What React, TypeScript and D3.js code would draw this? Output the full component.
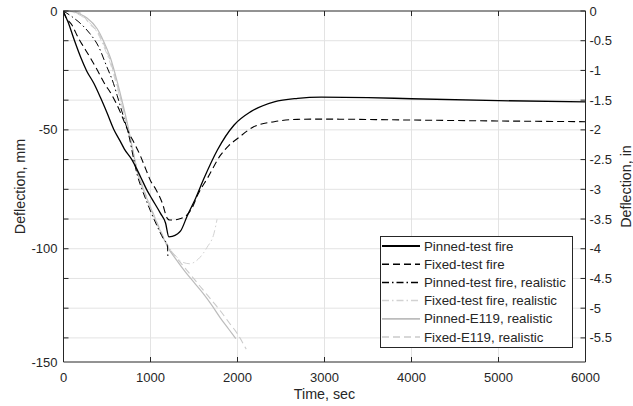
import React, { useEffect, useRef } from 'react';
import * as d3 from 'd3';

const W = 633;
const H = 406;
const FONT = '"Liberation Sans", Arial, Helvetica, sans-serif';
const INK = '#262626';

// ---- data (time in sec, deflection in mm) ----
const pinnedTestT = [0, 50, 120, 200, 265, 350, 425, 500, 577, 650, 700, 789, 885, 965, 1020, 1115, 1173, 1211, 1250, 1308, 1346, 1423, 1519, 1615, 1769, 1961, 2153, 2422, 2692, 2961, 3500, 4000, 5000, 6000];
const pinnedTestY = [-0.5, -4.5, -12, -20, -25.5, -31, -37, -43.5, -50.5, -55.5, -59, -63.7, -70.8, -77, -80.5, -86.5, -90.6, -96.5, -96.3, -95.3, -94, -87.5, -80, -71.5, -59.4, -48.7, -43, -38.8, -37.3, -36.8, -37, -37.5, -38.3, -38.8];

const fixedTestT = [0, 20, 97, 173, 231, 300, 385, 481, 539, 600, 650, 700, 750, 800, 885, 950, 1000, 1058, 1135, 1193, 1220, 1269, 1346, 1423, 1480, 1550, 1654, 1807, 1900, 2000, 2191, 2422, 2692, 2961, 4000, 5000, 6000];
const fixedTestY = [0, -2, -6, -11.7, -15.3, -19.5, -25, -31.6, -34.8, -39, -43, -47.5, -52, -55.5, -62, -68, -72.5, -76, -82, -88.6, -89.3, -89.3, -88.7, -87, -84, -78, -71.5, -61.5, -57.5, -54.5, -49.4, -47.3, -46.3, -46.2, -46.6, -47, -47.3];

const pinnedRealT = [0, 100, 200, 300, 400, 500, 575, 616, 660, 700, 750, 805, 847, 900, 962, 1000, 1077, 1150, 1193, 1200];
const pinnedRealY = [0, -2.5, -5.5, -9.5, -15, -24, -31, -36, -41.5, -46.5, -53, -63, -70, -76, -82, -85.5, -92, -97.5, -100, -105];

const fixedRealT = [0, 100, 200, 300, 385, 462, 539, 616, 674, 731, 800, 850, 900, 1000, 1100, 1200, 1250, 1300, 1350, 1450, 1550, 1650, 1730, 1765];
const fixedRealY = [0, -0.5, -2, -5, -9, -15, -22.5, -32.5, -41, -49.5, -60.5, -68, -74, -84, -93, -100, -103, -105, -107, -108, -106, -101, -95, -89];

const pinnedE119T = [0, 100, 200, 270, 385, 462, 539, 616, 674, 731, 800, 850, 900, 1000, 1100, 1200, 1300, 1400, 1500, 1600, 1700, 1800, 1900, 1980];
const pinnedE119Y = [0, -0.3, -1.5, -3, -7.5, -13, -20, -30, -38.5, -47.5, -60, -69, -74.5, -84, -93, -101, -106.5, -111.5, -116, -120.5, -125.5, -131, -136, -140];

const fixedE119T = [0, 100, 200, 250, 300, 385, 462, 539, 616, 674, 731, 800, 850, 900, 1000, 1100, 1200, 1300, 1400, 1500, 1600, 1700, 1800, 1900, 2000, 2100];
const fixedE119Y = [0, 0, -1, -3, -5.5, -8.5, -14, -21.5, -31.5, -40, -48.5, -60, -68.5, -74, -83.5, -92.5, -100.5, -105.5, -110, -114.5, -119, -123.5, -128, -133, -138, -144.5];

const timeTicks = [0, 1000, 2000, 3000, 4000, 5000, 6000];
const inchTicks = [0, -0.5, -1, -1.5, -2, -2.5, -3, -3.5, -4, -4.5, -5, -5.5];
const inchTickLabels = ['0', '-0.5', '-1', '-1.5', '-2', '-2.5', '-3', '-3.5', '-4', '-4.5', '-5', '-5.5'];
const mmTickLabels = ['0', '', '', '', '-50', '', '', '', '-100', '', '', ''];

const series = [
  { name: 'Pinned-test fire', t: pinnedTestT, y: pinnedTestY, color: '#000000', width: 1.3, dash: null },
  { name: 'Fixed-test fire', t: fixedTestT, y: fixedTestY, color: '#000000', width: 1.1, dash: '7,4' },
  { name: 'Pinned-test fire, realistic', t: pinnedRealT, y: pinnedRealY, color: '#000000', width: 1, dash: '7,3,1.5,3' },
  { name: 'Fixed-test fire, realistic', t: fixedRealT, y: fixedRealY, color: '#d2d2d2', width: 1, dash: '7,3,1.5,3' },
  { name: 'Pinned-E119, realistic', t: pinnedE119T, y: pinnedE119Y, color: '#bcbcbc', width: 1.2, dash: null },
  { name: 'Fixed-E119, realistic', t: fixedE119T, y: fixedE119Y, color: '#cacaca', width: 1.1, dash: '7,4' },
];

export default function App() {
  const svgRef = useRef<SVGSVGElement | null>(null);

  useEffect(() => {
    const svg = d3.select(svgRef.current);
    svg.selectAll('*').remove();

    const left = 63.5, right = 585.5, top = 11, bottom = 362;
    const x = d3.scaleLinear().domain([0, 6000]).range([left, right]);
    const yMm = d3.scaleLinear().domain([-150, 0]).range([bottom, top]);
    const yIn = d3.scaleLinear().domain([-150 / 25.4, 0]).range([bottom, top]);

    svg.append('rect').attr('width', W).attr('height', H).attr('fill', '#fff');

    // grid
    const grid = svg.append('g').attr('stroke', '#e3e3e3').attr('stroke-width', 1);
    timeTicks.slice(1, -1).forEach(t => {
      grid.append('line').attr('x1', x(t)).attr('x2', x(t)).attr('y1', top).attr('y2', bottom);
    });
    inchTicks.slice(1).forEach(v => {
      grid.append('line').attr('x1', left).attr('x2', right).attr('y1', yIn(v)).attr('y2', yIn(v));
    });

    // curves
    const line = d3.line<[number, number]>()
      .x(d => x(d[0]))
      .y(d => yMm(d[1]))
      .curve(d3.curveMonotoneX);

    const plot = svg.append('g');
    series.slice().reverse().forEach(s => {
      const pts = s.t.map((t, i) => [t, s.y[i]] as [number, number]);
      plot.append('path')
        .attr('d', line(pts))
        .attr('fill', 'none')
        .attr('stroke', s.color)
        .attr('stroke-width', s.width)
        .attr('stroke-dasharray', s.dash)
        .attr('stroke-linejoin', 'round');
    });

    // axes box
    const ax = svg.append('g').attr('stroke', INK).attr('stroke-width', 1).attr('fill', 'none');
    ax.append('line').attr('x1', left).attr('x2', right).attr('y1', top).attr('y2', top);
    ax.append('line').attr('x1', left).attr('x2', right).attr('y1', bottom).attr('y2', bottom);
    ax.append('line').attr('x1', left).attr('x2', left).attr('y1', top).attr('y2', bottom);
    ax.append('line').attr('x1', right).attr('x2', right).attr('y1', top).attr('y2', bottom);

    const tl = 5;
    timeTicks.forEach(t => {
      ax.append('line').attr('x1', x(t)).attr('x2', x(t)).attr('y1', bottom).attr('y2', bottom - tl);
      ax.append('line').attr('x1', x(t)).attr('x2', x(t)).attr('y1', top).attr('y2', top + tl);
    });
    inchTicks.forEach(v => {
      ax.append('line').attr('x1', left).attr('x2', left + tl).attr('y1', yIn(v)).attr('y2', yIn(v));
      ax.append('line').attr('x1', right).attr('x2', right - tl).attr('y1', yIn(v)).attr('y2', yIn(v));
    });

    const txt = svg.append('g')
      .attr('font-family', FONT)
      .attr('font-size', 13)
      .attr('fill', INK);

    timeTicks.forEach(t => {
      txt.append('text').attr('x', x(t)).attr('y', 377)
        .attr('text-anchor', 'middle').attr('dominant-baseline', 'central').text(String(t));
    });
    inchTicks.forEach((v, i) => {
      txt.append('text').attr('x', right + 4).attr('y', yIn(v))
        .attr('dominant-baseline', 'central').text(inchTickLabels[i]);
      if (mmTickLabels[i]) {
        txt.append('text').attr('x', left - 6).attr('y', yIn(v))
          .attr('text-anchor', 'end').attr('dominant-baseline', 'central').text(mmTickLabels[i]);
      }
    });
    txt.append('text').attr('x', left - 6).attr('y', yMm(-150))
      .attr('text-anchor', 'end').attr('dominant-baseline', 'central').text('-150');

    // axis titles
    txt.append('text').attr('x', (left + right) / 2).attr('y', 394)
      .attr('font-size', 14.3).attr('text-anchor', 'middle').attr('dominant-baseline', 'central')
      .text('Time, sec');
    txt.append('text').attr('transform', `translate(25,${(top + bottom) / 2}) rotate(-90)`)
      .attr('font-size', 14.3).attr('text-anchor', 'middle').text('Deflection, mm');
    txt.append('text').attr('transform', `translate(631,${(top + bottom) / 2}) rotate(-90)`)
      .attr('font-size', 14.3).attr('text-anchor', 'middle').text('Deflection, in');

    // legend
    const lg = svg.append('g');
    const lx = 380, ly = 236, lw = 192, lh = 111;
    lg.append('rect').attr('x', lx + 0.5).attr('y', ly + 0.5).attr('width', lw).attr('height', lh)
      .attr('fill', '#fff').attr('stroke', INK).attr('stroke-width', 1);
    series.forEach((s, i) => {
      const cy = ly + 10 + i * 18.2;
      lg.append('line').attr('x1', lx + 2).attr('x2', lx + 40).attr('y1', cy).attr('y2', cy)
        .attr('stroke', s.color).attr('stroke-width', s.width + 0.5).attr('stroke-dasharray', s.dash);
      lg.append('text').attr('x', lx + 44).attr('y', cy)
        .attr('font-family', FONT).attr('font-size', 13.3).attr('fill', INK)
        .attr('dominant-baseline', 'central').text(s.name);
    });
  }, []);

  return (
    <svg ref={svgRef} width={W} height={H}
      style={{ position: 'fixed', left: 0, top: 0, display: 'block' }} />
  );
}
